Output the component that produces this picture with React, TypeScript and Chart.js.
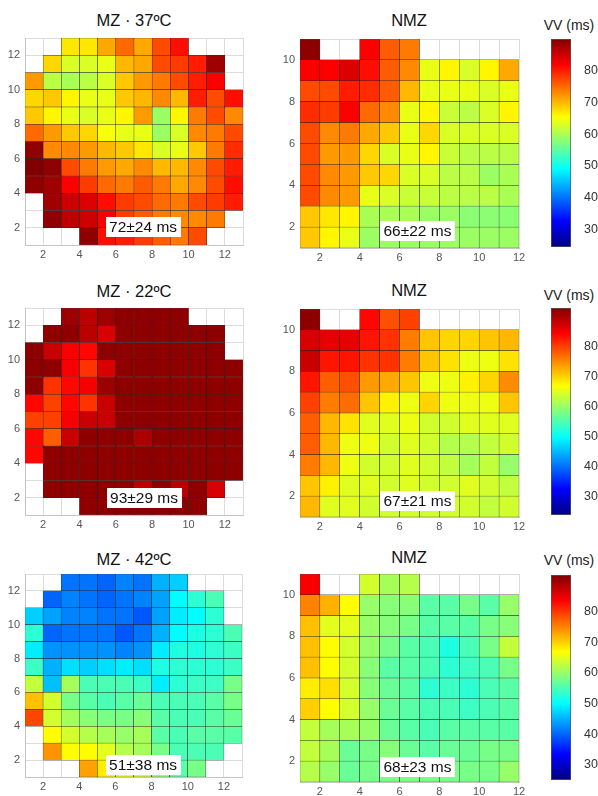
import React, { useEffect, useRef } from "react";
import { Chart, registerables } from "chart.js";
Chart.register(...registerables);

const _ = null;

// VV values (ms), rows listed from top (highest y) to bottom
const mz37 = [
  [_, _, 67, 67, 71, 75, 71, 77, 81, _, _, _],
  [_, 68, 63, 63, 64, 70, 71, 77, 78, 80, 88, _],
  [72, 61, 60, 61, 63, 69, 72, 74, 77, 80, 82, _],
  [68, 69, 66, 64, 64, 69, 70, 73, 70, 80, 77, 81],
  [69, 66, 64, 63, 64, 66, 72, 59, 66, 74, 77, 73],
  [75, 72, 69, 68, 65, 64, 64, 59, 63, 73, 74, 77],
  [89, 73, 73, 72, 70, 69, 67, 63, 64, 69, 74, 79],
  [90, 89, 77, 74, 72, 71, 73, 70, 70, 73, 77, 80],
  [89, 88, 82, 78, 75, 74, 76, 74, 71, 73, 77, 81],
  [_, 88, 85, 84, 81, 78, 77, 75, 74, 77, 78, 80],
  [_, 89, 86, 85, 82, 78, 76, 74, 73, 73, 74, _],
  [_, _, _, 89, 81, 80, 78, 76, 74, 77, _, _],
];
const nmz37 = [
  [89, _, _, 82, 76, 74, _, _, _, _, _],
  [82, 82, 84, 81, 76, 73, 64, 66, 63, 66, 71],
  [77, 77, 80, 79, 76, 70, 64, 64, 64, 63, 64],
  [79, 78, 82, 75, 73, 64, 66, 62, 61, 63, 66],
  [77, 73, 74, 71, 69, 64, 68, 63, 63, 63, 63],
  [77, 72, 72, 68, 63, 64, 66, 62, 61, 61, 61],
  [77, 73, 72, 69, 68, 63, 63, 61, 61, 59, 60],
  [77, 73, 72, 64, 63, 62, 62, 61, 61, 61, 60],
  [69, 67, 66, 60, 60, 60, 59, 59, 58, 58, 58],
  [69, 66, 64, 59, 59, 59, 59, 59, 59, 59, 59],
];
const mz22 = [
  [_, _, 91, 89, 91, 92, 92, 92, 92, _, _, _],
  [_, 92, 92, 89, 87, 92, 92, 92, 92, 92, 92, _],
  [92, 88, 85, 84, 92, 92, 92, 92, 92, 92, 92, _],
  [92, 92, 85, 81, 87, 92, 92, 92, 92, 92, 92, 92],
  [92, 81, 84, 85, 91, 92, 92, 92, 92, 92, 92, 92],
  [84, 80, 84, 81, 88, 92, 92, 92, 92, 92, 92, 92],
  [80, 80, 85, 88, 88, 92, 92, 92, 92, 92, 92, 92],
  [84, 78, 88, 92, 92, 92, 90, 92, 92, 92, 92, 92],
  [84, 92, 92, 92, 92, 92, 92, 92, 92, 92, 92, 92],
  [_, 92, 92, 92, 92, 92, 92, 92, 92, 92, 92, 92],
  [_, 92, 92, 92, 92, 92, 89, 92, 89, 92, 87, _],
  [_, _, _, 92, 92, 92, 92, 92, 92, 92, _, _],
];
const nmz22 = [
  [92, _, _, 84, 79, 80, _, _, _, _, _],
  [87, 86, 86, 83, 81, 76, 71, 70, 70, 71, 72],
  [88, 83, 83, 81, 81, 76, 71, 69, 66, 66, 69],
  [83, 78, 79, 74, 73, 71, 66, 66, 68, 70, 75],
  [80, 76, 77, 71, 68, 66, 70, 66, 66, 66, 71],
  [78, 72, 69, 65, 65, 66, 64, 64, 65, 65, 65],
  [78, 72, 66, 66, 64, 65, 64, 62, 62, 63, 64],
  [76, 72, 66, 64, 64, 65, 64, 63, 61, 63, 60],
  [71, 68, 65, 65, 64, 65, 64, 64, 65, 64, 63],
  [72, 65, 65, 64, 64, 64, 64, 64, 64, 63, 64],
];
const mz42 = [
  [_, _, 41, 41, 40, 42, 41, 45, 47, _, _, _],
  [_, 40, 42, 41, 40, 41, 42, 44, 50, 53, 55, _],
  [47, 44, 42, 42, 41, 41, 39, 44, 49, 50, 53, _],
  [53, 40, 41, 41, 41, 39, 41, 45, 50, 52, 53, 55],
  [49, 43, 43, 43, 43, 42, 43, 49, 52, 52, 53, 54],
  [54, 45, 48, 47, 48, 49, 48, 52, 53, 53, 53, 54],
  [63, 46, 61, 55, 55, 55, 54, 49, 53, 54, 54, 58],
  [71, 64, 58, 56, 55, 56, 57, 55, 55, 55, 56, 58],
  [79, 64, 61, 59, 58, 58, 59, 56, 55, 55, 56, 57],
  [_, 67, 64, 62, 61, 60, 61, 56, 55, 56, 56, 56],
  [_, 74, 67, 67, 65, 62, 61, 58, 55, 55, 55, _],
  [_, _, _, 73, 68, 67, 64, 60, 56, 58, _, _],
];
const nmz42 = [
  [84, _, _, 64, 61, 62, _, _, _, _, _],
  [75, 72, 67, 60, 59, 59, 56, 56, 58, 56, 60],
  [71, 65, 65, 60, 59, 58, 56, 56, 56, 58, 59],
  [71, 67, 64, 60, 58, 56, 55, 52, 55, 58, 63],
  [71, 67, 64, 59, 56, 56, 55, 53, 54, 55, 58],
  [68, 69, 64, 59, 57, 56, 53, 54, 53, 55, 56],
  [70, 67, 64, 60, 57, 56, 55, 55, 54, 55, 56],
  [63, 61, 61, 60, 57, 56, 55, 56, 56, 56, 56],
  [63, 61, 57, 58, 59, 57, 56, 57, 57, 58, 58],
  [62, 60, 57, 58, 58, 58, 58, 58, 58, 58, 60],
];

const titles = ["MZ · 37ºC", "NMZ", "MZ · 22ºC", "NMZ", "MZ · 42ºC", "NMZ"];
const notes = ["72±24 ms", "66±22 ms", "93±29 ms", "67±21 ms", "51±38 ms", "68±23 ms"];
const limitsTop = [24.5, 90];
const limitsMid = [24, 93];
const limitsBot = [25, 92];
const colorbarTicks = [30, 40, 50, 60, 70, 80];
const mzTicks = [2, 4, 6, 8, 10, 12];
const nmzXTicks = [2, 4, 6, 8, 10, 12];
const nmzYTicks = [2, 4, 6, 8, 10];
const colorbarLabel = "VV (ms)";

const FONT = '"Liberation Sans", Arial, Helvetica, sans-serif';

const clamp01 = (v: number) => Math.max(0, Math.min(1, v));
function jetRGB(t: number) {
  const r = clamp01(1.5 - Math.abs(4 * t - 3));
  const g = clamp01(1.5 - Math.abs(4 * t - 2));
  const b = clamp01(1.5 - Math.abs(4 * t - 1));
  return `rgb(${Math.round(r * 255)},${Math.round(g * 255)},${Math.round(b * 255)})`;
}
function jet(v: number, lim: number[]) {
  return jetRGB(clamp01((v - lim[0]) / (lim[1] - lim[0])));
}

const notePlugin = {
  id: "note",
  afterDatasetsDraw(chart: any, _args: any, opts: any) {
    if (!opts || !opts.text) return;
    const { ctx } = chart;
    const xs = chart.scales.x;
    const ys = chart.scales.y;
    const px = xs.getPixelForValue(opts.x);
    const py = ys.getPixelForValue(opts.y);
    ctx.save();
    ctx.font = `15.5px ${FONT}`;
    const w = ctx.measureText(opts.text).width + 7;
    const h = 20;
    ctx.fillStyle = "#ffffff";
    ctx.fillRect(Math.round(px - w / 2), Math.round(py - h / 2), Math.round(w), h);
    ctx.fillStyle = "#111";
    ctx.textAlign = "center";
    ctx.textBaseline = "middle";
    ctx.fillText(opts.text, px, py + 1);
    ctx.restore();
  },
};

type Box = { left: number; top: number; w: number; h: number };

function Heatmap(props: {
  rows: (number | null)[][];
  xMax: number;
  yMax: number;
  xTicks: number[];
  yTicks: number[];
  lim: number[];
  note: string;
  noteX: number;
  noteY: number;
  box: Box;
}) {
  const ref = useRef<HTMLCanvasElement>(null);
  const padL = 25, padT = 6, padR = 14, padB = 20;
  const { box } = props;
  const cw = padL + box.w + padR;
  const ch = padT + box.h + padB;
  useEffect(() => {
    const nR = props.rows.length;
    const pts: any[] = [];
    const colors: string[] = [];
    props.rows.forEach((row, i) =>
      row.forEach((v, j) => {
        if (v == null) return;
        const y0 = 1 + (nR - 1 - i);
        pts.push({ x: 1 + j + 0.5, y: [y0, y0 + 1] });
        colors.push(jet(v, props.lim));
      })
    );
    const tickFont = { family: FONT, size: 11 };
    const chart = new Chart(ref.current as HTMLCanvasElement, {
      type: "bar",
      data: {
        datasets: [
          {
            data: pts,
            backgroundColor: colors,
            borderColor: "rgba(25,25,25,0.9)",
            borderWidth: 0.5,
            borderSkipped: false,
            barPercentage: 1,
            categoryPercentage: 1,
          } as any,
        ],
      },
      options: {
        animation: false,
        responsive: false,
        maintainAspectRatio: false,
        events: [],
        layout: { padding: { top: padT, right: padR, left: 0, bottom: 0 } },
        plugins: {
          legend: { display: false },
          tooltip: { enabled: false },
          note: { text: props.note, x: props.noteX, y: props.noteY },
        } as any,
        scales: {
          x: {
            type: "linear",
            min: 1,
            max: props.xMax,
            offset: false,
            grid: { offset: false, color: "#dcdcdc", drawTicks: false, lineWidth: 1 },
            border: { color: "#c4c4c4" },
            ticks: {
              stepSize: 1,
              autoSkip: false,
              maxRotation: 0,
              padding: 3,
              color: "#555",
              font: tickFont,
              callback: (v: any) => (props.xTicks.includes(Number(v)) ? String(v) : ""),
            },
            afterFit: (s: any) => {
              s.height = padB;
              s.paddingLeft = 0;
              s.paddingRight = 0;
            },
          } as any,
          y: {
            type: "linear",
            min: 1,
            max: props.yMax,
            grid: { color: "#dcdcdc", drawTicks: false, lineWidth: 1 },
            border: { color: "#c4c4c4" },
            ticks: {
              stepSize: 1,
              autoSkip: false,
              padding: 5,
              color: "#555",
              font: tickFont,
              callback: (v: any) => (props.yTicks.includes(Number(v)) ? String(v) : ""),
            },
            afterFit: (s: any) => {
              s.width = padL;
              s.paddingTop = 0;
              s.paddingBottom = 0;
            },
          } as any,
        },
      },
      plugins: [notePlugin as any],
    });
    return () => chart.destroy();
  }, []);
  return (
    <canvas
      ref={ref}
      width={cw}
      height={ch}
      style={{ position: "absolute", left: box.left - padL, top: box.top - padT, width: cw, height: ch }}
    />
  );
}

function ColorBar(props: { lim: number[]; box: Box }) {
  const ref = useRef<HTMLCanvasElement>(null);
  const { box, lim } = props;
  const axisW = 27;
  const pad = 10;
  const cw = box.w + axisW;
  const ch = box.h + 2 * pad;
  useEffect(() => {
    const chart = new Chart(ref.current as HTMLCanvasElement, {
      type: "bar",
      data: {
        labels: [""],
        datasets: [
          {
            data: [[lim[0], lim[1]]],
            backgroundColor: (c: any) => {
              const chr = c.chart;
              const ys = chr.scales && chr.scales.y;
              if (!chr.chartArea || !ys) return "#888";
              const y0 = ys.getPixelForValue(lim[0]);
              const y1 = ys.getPixelForValue(lim[1]);
              const g = chr.ctx.createLinearGradient(0, y0, 0, y1);
              const stops = [0, 0.125, 0.25, 0.375, 0.5, 0.625, 0.75, 0.875, 1];
              stops.forEach((t) => g.addColorStop(t, jetRGB(t)));
              return g;
            },
            borderColor: "#555",
            borderWidth: 1,
            borderSkipped: false,
            barPercentage: 1,
            categoryPercentage: 1,
          } as any,
        ],
      },
      options: {
        animation: false,
        responsive: false,
        maintainAspectRatio: false,
        events: [],
        layout: { padding: { top: pad, bottom: pad, left: 0, right: 0 } },
        plugins: { legend: { display: false }, tooltip: { enabled: false } },
        scales: {
          x: { display: false, offset: true } as any,
          y: {
            position: "right",
            min: lim[0],
            max: lim[1],
            grid: { display: false },
            border: { display: false },
            ticks: { padding: 5, color: "#333", font: { family: FONT, size: 12.5 } },
            afterBuildTicks: (s: any) => {
              s.ticks = colorbarTicks.map((v) => ({ value: v }));
            },
            afterFit: (s: any) => {
              s.width = axisW;
              s.paddingTop = 0;
              s.paddingBottom = 0;
            },
          } as any,
        },
      },
    });
    return () => chart.destroy();
  }, []);
  return (
    <canvas
      ref={ref}
      width={cw}
      height={ch}
      style={{ position: "absolute", left: box.left, top: box.top - pad, width: cw, height: ch }}
    />
  );
}

function Title(props: { text: string; cx: number; top: number }) {
  return (
    <div
      style={{
        position: "absolute",
        left: props.cx - 100,
        width: 200,
        top: props.top,
        textAlign: "center",
        fontFamily: FONT,
        fontSize: 16.5,
        lineHeight: "19px",
        color: "#111",
        whiteSpace: "nowrap",
      }}
    >
      {props.text}
    </div>
  );
}

function CbLabel(props: { top: number }) {
  return (
    <div
      style={{
        position: "absolute",
        left: 529,
        width: 80,
        top: props.top,
        textAlign: "center",
        fontFamily: FONT,
        fontSize: 14,
        lineHeight: "16px",
        color: "#222",
        whiteSpace: "nowrap",
      }}
    >
      {colorbarLabel}
    </div>
  );
}

export default function App() {
  const L = { tl: { left: 25, top: 38, w: 218, h: 207 }, tr: { left: 300, top: 39, w: 219, h: 209 },
    ml: { left: 25, top: 308, w: 218, h: 207 }, mr: { left: 300, top: 309, w: 219, h: 208 },
    bl: { left: 25, top: 574, w: 217, h: 203 }, br: { left: 300, top: 574, w: 219, h: 208 } };
  return (
    <div style={{ position: "absolute", left: 0, top: 0, width: 598, height: 796, background: "#fff", overflow: "hidden" }}>
      <Title text={titles[0]} cx={134} top={11} />
      <Title text={titles[1]} cx={409} top={11} />
      <Title text={titles[2]} cx={134} top={282} />
      <Title text={titles[3]} cx={409} top={281} />
      <Title text={titles[4]} cx={134} top={550} />
      <Title text={titles[5]} cx={409} top={548} />

      <Heatmap rows={mz37} xMax={13} yMax={13} xTicks={mzTicks} yTicks={mzTicks} lim={limitsTop} note={notes[0]} noteX={7.5} noteY={2.05} box={L.tl} />
      <Heatmap rows={nmz37} xMax={12} yMax={11} xTicks={nmzXTicks} yTicks={nmzYTicks} lim={limitsTop} note={notes[1]} noteX={6.9} noteY={1.83} box={L.tr} />
      <Heatmap rows={mz22} xMax={13} yMax={13} xTicks={mzTicks} yTicks={mzTicks} lim={limitsMid} note={notes[2]} noteX={7.55} noteY={2.0} box={L.ml} />
      <Heatmap rows={nmz22} xMax={12} yMax={11} xTicks={nmzXTicks} yTicks={nmzYTicks} lim={limitsMid} note={notes[3]} noteX={6.9} noteY={1.78} box={L.mr} />
      <Heatmap rows={mz42} xMax={13} yMax={13} xTicks={mzTicks} yTicks={mzTicks} lim={limitsBot} note={notes[4]} noteX={7.53} noteY={1.71} box={L.bl} />
      <Heatmap rows={nmz42} xMax={12} yMax={11} xTicks={nmzXTicks} yTicks={nmzYTicks} lim={limitsBot} note={notes[5]} noteX={6.9} noteY={1.72} box={L.br} />

      <CbLabel top={17} />
      <CbLabel top={287} />
      <CbLabel top={552} />
      <ColorBar lim={limitsTop} box={{ left: 551, top: 39, w: 20, h: 208 }} />
      <ColorBar lim={limitsMid} box={{ left: 551, top: 308, w: 20, h: 207 }} />
      <ColorBar lim={limitsBot} box={{ left: 551, top: 575, w: 20, h: 205 }} />
    </div>
  );
}
